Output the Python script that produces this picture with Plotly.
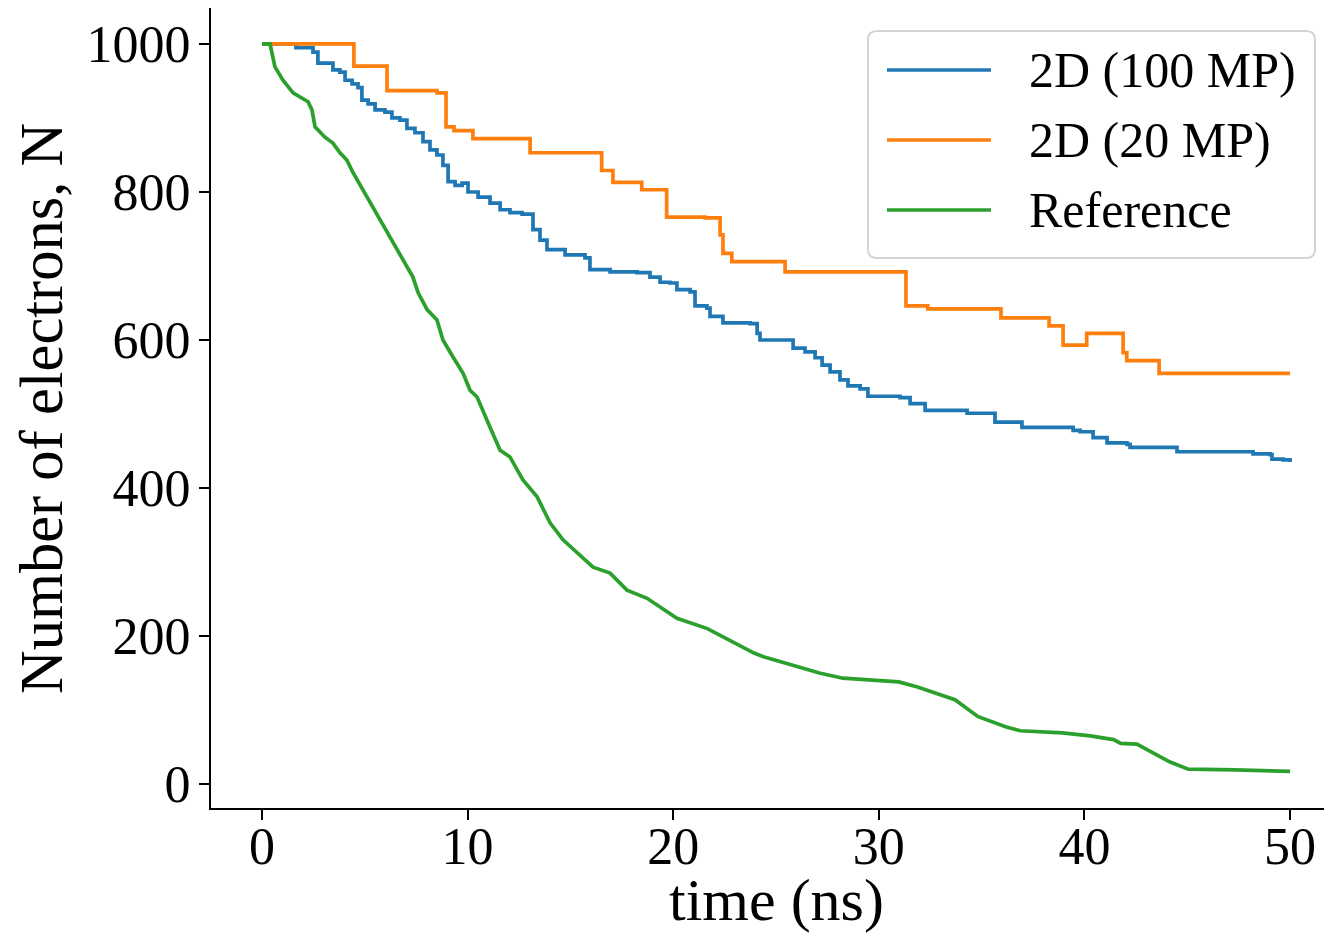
import plotly.graph_objects as go

# ---------------- data ----------------
t_mp100 = [0, 1.65, 2.48, 2.72, 3.16, 3.45, 3.79, 4.04, 4.38, 4.67, 4.86, 5.16, 5.50, 5.98,
           6.32, 6.71, 7.05, 7.44, 7.83, 8.17, 8.51, 8.80, 9.05, 9.39, 9.73, 10.02, 10.51,
           11.09, 11.58, 12.06, 12.65, 13.18, 13.52, 13.86, 14.74, 15.71, 15.95, 16.93, 18.24,
           18.87, 19.36, 19.84, 20.18, 20.82, 21.06, 21.64, 21.79, 22.42, 23.74, 24.08, 24.22,
           25.34, 25.83, 26.41, 26.90, 27.24, 27.63, 28.11, 28.50, 29.09, 29.47, 31.03, 31.52,
           32.25, 34.10, 34.29, 35.41, 35.65, 36.72, 36.96, 38.96, 39.45, 39.79, 40.37, 40.42,
           41.10, 42.07, 42.22, 43.68, 44.50, 47.91, 48.20, 49.03, 49.12, 49.66, 50.0]
n_mp100 = [1000, 995, 989, 974, 974, 965, 962, 951, 946, 941, 924, 919, 911, 908,
           900, 897, 886, 880, 868, 857, 850, 836, 814, 809, 812, 800, 793,
           785, 776, 772, 770, 749, 735, 722, 715, 711, 695, 692, 691,
           685, 678, 677, 668, 665, 646, 643, 632, 623, 622, 609, 600,
           600, 589, 584, 576, 566, 557, 546, 538, 534, 524, 522, 514,
           505, 505, 501, 501, 489, 489, 482, 482, 478, 476, 476, 468,
           461, 459, 455, 455, 449, 449, 446, 445, 439, 438, 435]

t_mp20 = [0, 4.47, 6.08, 8.51, 8.95, 9.34, 10.26, 13.04, 16.52, 17.07, 18.47, 19.68, 21.55,
          22.28, 22.42, 22.85, 25.44, 31.32, 32.38, 35.94, 38.28, 38.96, 40.11, 41.88, 42.06,
          43.63, 50.0]
n_mp20 = [1000, 970, 937, 934, 888, 883, 872, 853, 829, 813, 803, 766, 765,
          742, 717, 706, 692, 646, 642, 630, 619, 593, 609, 583, 572,
          555, 555]

t_ref = [0, 0.39, 0.63, 1.02, 1.51, 2.24, 2.43, 2.58, 3.06, 3.45, 3.79, 4.13, 4.43, 4.91,
         5.40, 5.74, 6.23, 6.86, 7.34, 7.59, 8.03, 8.51, 8.80, 9.29, 9.78, 10.12, 10.46,
         11.09, 11.58, 12.06, 12.69, 13.38, 14.01, 14.64, 15.32, 16.10, 16.93, 17.75, 18.73,
         19.62, 20.18, 21.66, 22.57, 23.93, 24.39, 25.52, 27.11, 28.25, 29.61, 30.97, 31.88,
         32.56, 33.70, 34.83, 36.20, 36.88, 38.92, 40.28, 41.42, 41.76, 42.55, 44.14, 45.05,
         47.32, 49.37, 50.0]
n_ref = [1000, 1000, 969, 951, 934, 922, 911, 888, 874, 866, 853, 843, 826, 803,
         780, 762, 739, 708, 685, 664, 641, 627, 600, 577, 555, 532, 523,
         482, 451, 442, 411, 388, 353, 330, 312, 293, 285, 262, 251,
         235, 224, 210, 197, 177, 172, 163, 150, 143, 140, 138, 131,
         125, 114, 91, 77, 72, 69, 65, 60, 55, 54, 30, 20,
         19, 17, 17]

series_names = ["2D (100 MP)", "2D (20 MP)", "Reference"]
series_colors = ["#1f77b4", "#ff7f0e", "#2ca02c"]

x_ticks = [0, 10, 20, 30, 40, 50]
y_ticks = [0, 200, 400, 600, 800, 1000]
x_title = "time (ns)"
y_title = "Number of electrons, N"

# ---------------- figure ----------------
# the page body adds an 8 px margin, so the figure is sized to fit the window
OFF = 8
W, H = 1332 - 2 * OFF, 943 - 2 * OFF
L, T, B, R = 211 - OFF, 0, (943 - OFF) - 808, 0
FONT = "Liberation Serif, Times New Roman, serif"
LW = 3.7

fig = go.Figure()
fig.add_trace(go.Scatter(x=t_mp100, y=n_mp100, mode="lines", line_shape="hv",
                         name=series_names[0], line=dict(color=series_colors[0], width=LW),
                         showlegend=False))
fig.add_trace(go.Scatter(x=t_mp20, y=n_mp20, mode="lines", line_shape="hv",
                         name=series_names[1], line=dict(color=series_colors[1], width=LW),
                         showlegend=False))
fig.add_trace(go.Scatter(x=t_ref, y=n_ref, mode="lines",
                         name=series_names[2], line=dict(color=series_colors[2], width=LW),
                         showlegend=False))

pw = W - L - R
ph = H - T - B


def px(x):  # page pixel -> paper
    return (x - OFF - L) / pw


def py(y):
    return (H - B - (y - OFF)) / ph


# legend drawn manually (matplotlib-like box with long line samples)
x0, x1, y0, y1, r = 868, 1315, 31, 258, 9
path = (f"M{px(x0 + r)},{py(y0)} L{px(x1 - r)},{py(y0)} Q{px(x1)},{py(y0)} {px(x1)},{py(y0 + r)} "
        f"L{px(x1)},{py(y1 - r)} Q{px(x1)},{py(y1)} {px(x1 - r)},{py(y1)} "
        f"L{px(x0 + r)},{py(y1)} Q{px(x0)},{py(y1)} {px(x0)},{py(y1 - r)} "
        f"L{px(x0)},{py(y0 + r)} Q{px(x0)},{py(y0)} {px(x0 + r)},{py(y0)} Z")
shapes = [dict(type="path", xref="paper", yref="paper", path=path,
               fillcolor="rgba(255,255,255,0.85)", line=dict(color="#d4d4d4", width=2),
               layer="above")]
annotations = []
row_y = [70, 140, 210]
for name, col, yy in zip(series_names, series_colors, row_y):
    shapes.append(dict(type="line", xref="paper", yref="paper",
                       x0=px(887), x1=px(991), y0=py(yy), y1=py(yy),
                       line=dict(color=col, width=LW), layer="above"))
    annotations.append(dict(xref="paper", yref="paper", x=px(1027), y=py(yy),
                            xanchor="left", yanchor="middle", text=name, showarrow=False,
                            font=dict(family=FONT, size=50, color="black")))

# axis titles as annotations (matplotlib-like placement)
annotations.append(dict(xref="paper", yref="paper", x=px(776), y=py(900),
                        xanchor="center", yanchor="middle", text=x_title, showarrow=False,
                        font=dict(family=FONT, size=60, color="black")))
annotations.append(dict(xref="paper", yref="paper", x=px(41), y=py(409),
                        xanchor="center", yanchor="middle", text=y_title, showarrow=False,
                        textangle=-90, font=dict(family=FONT, size=60.5, color="black")))

fig.update_layout(
    width=W, height=H,
    margin=dict(l=L, r=R, t=T, b=B, pad=0, autoexpand=False),
    paper_bgcolor="white", plot_bgcolor="white",
    font=dict(family=FONT, color="black"),
    shapes=shapes, annotations=annotations,
    showlegend=False,
)
x_left = -2.48
x_right = 51.65
y_bottom = -32.4
y_top = 1048.6
fig.update_xaxes(
    range=[x_left, x_right], tickvals=x_ticks, ticktext=[str(v) for v in x_ticks],
    showgrid=False, zeroline=False, showline=True, linecolor="black", linewidth=2,
    mirror=True, ticks="outside", ticklen=10, tickwidth=2, tickcolor="black",
    tickfont=dict(family=FONT, size=52, color="black"), ticklabelstandoff=-18,
    automargin=False,
)
fig.update_yaxes(
    range=[y_bottom, y_top], tickvals=y_ticks, ticktext=[str(v) for v in y_ticks],
    showgrid=False, zeroline=False, showline=True, linecolor="black", linewidth=2,
    mirror=False, ticks="outside", ticklen=10, tickwidth=2, tickcolor="black",
    tickfont=dict(family=FONT, size=52, color="black"), ticklabelstandoff=-2,
    automargin=False,
)

fig.write_html("out.html")
